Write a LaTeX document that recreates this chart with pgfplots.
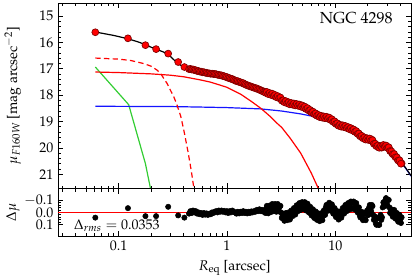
\documentclass[border=0pt]{standalone}
\usepackage[T1]{fontenc}
\usepackage{mathpazo}
\usepackage{pgfplots}
\usepackage{pgfplotstable}
\pgfplotsset{compat=1.18}

\definecolor{mgreen}{RGB}{50,205,50}
\definecolor{mblue}{RGB}{20,20,255}
\definecolor{dred}{RGB}{125,0,0}

\pgfplotstableread{
R mu d
0.061 15.61 0.042
0.122 15.84 -0.034
0.177 16.10 0.030
0.222 16.25 0.030
0.287 16.42 -0.045
0.355 16.74 0.024
0.405 16.93 0.042
0.447 17.01 0.010
0.460 17.00 -0.010
0.473 17.025 0.005
0.487 17.02 -0.015
0.501 17.05 0.000
0.516 17.05 -0.010
0.531 17.08 0.010
0.546 17.08 0.000
0.562 17.105 0.015
0.578 17.105 0.005
0.596 17.13 0.020
0.613 17.125 0.005
0.631 17.148 0.018
0.649 17.148 0.008
0.668 17.17 0.020
0.688 17.17 0.010
0.708 17.185 0.015
0.729 17.18 0.000
0.750 17.195 0.005
0.772 17.195 -0.005
0.794 17.20 -0.010
0.817 17.225 0.000
0.841 17.225 -0.015
0.866 17.245 -0.005
0.891 17.245 -0.015
0.917 17.27 -0.005
0.944 17.278 -0.012
0.972 17.305 0.000
1.000 17.31 -0.010
1.029 17.345 0.005
1.059 17.35 -0.010
1.090 17.38 0.000
1.122 17.385 -0.015
1.155 17.415 -0.005
1.189 17.44 0.000
1.224 17.465 0.010
1.259 17.465 -0.005
1.296 17.498 0.008
1.334 17.505 -0.005
1.373 17.535 0.005
1.413 17.54 -0.010
1.454 17.58 0.005
1.496 17.595 -0.005
1.540 17.628 0.008
1.585 17.635 -0.005
1.631 17.665 0.005
1.679 17.672 -0.008
1.728 17.70 0.000
1.778 17.71 -0.010
1.830 17.735 -0.005
1.884 17.74 -0.020
1.939 17.775 -0.010
1.995 17.785 -0.025
2.054 17.82 -0.010
2.113 17.83 -0.020
2.175 17.865 -0.005
2.239 17.87 -0.020
2.304 17.885 -0.030
2.371 17.925 -0.015
2.441 17.93 -0.030
2.512 17.96 -0.020
2.585 17.955 -0.045
2.661 17.99 -0.030
2.739 17.995 -0.050
2.818 18.045 -0.025
2.901 18.045 -0.045
2.985 18.08 -0.030
3.073 18.085 -0.045
3.162 18.15 0.000
3.255 18.20 0.030
3.350 18.245 0.055
3.447 18.23 0.020
3.548 18.28 0.050
3.652 18.27 0.015
3.758 18.325 0.045
3.868 18.31 0.010
3.981 18.34 0.020
4.097 18.32 -0.020
4.217 18.37 0.010
4.340 18.345 -0.035
4.467 18.38 -0.020
4.597 18.36 -0.060
4.732 18.41 -0.030
4.870 18.39 -0.070
5.012 18.445 -0.035
5.158 18.43 -0.075
5.309 18.50 -0.030
5.464 18.49 -0.060
5.623 18.55 -0.020
5.788 18.555 -0.040
5.957 18.63 0.010
6.131 18.62 -0.020
6.310 18.69 0.030
6.494 18.685 0.000
6.683 18.755 0.045
6.879 18.745 0.015
7.079 18.81 0.060
7.286 18.785 0.020
7.499 18.835 0.055
7.718 18.81 0.010
7.943 18.86 0.020
8.175 18.825 -0.040
8.414 18.87 -0.020
8.660 18.85 -0.065
8.913 18.91 -0.030
9.173 18.905 -0.060
9.441 18.98 -0.010
9.716 18.985 -0.030
10.00 19.06 0.020
10.29 19.06 -0.005
10.59 19.135 0.045
10.90 19.125 0.010
11.22 19.175 0.035
11.55 19.155 -0.010
11.89 19.19 0.000
12.23 19.175 -0.040
12.59 19.22 -0.020
12.96 19.21 -0.060
13.34 19.27 -0.030
13.73 19.25 -0.075
14.13 19.31 -0.040
14.54 19.295 -0.080
14.96 19.365 -0.035
15.40 19.355 -0.070
15.85 19.43 -0.020
16.31 19.44 -0.040
16.79 19.53 0.020
17.28 19.535 0.000
17.78 19.61 0.050
18.30 19.60 0.015
18.84 19.665 0.055
19.39 19.645 0.010
19.95 19.68 0.020
20.54 19.65 -0.040
21.13 19.70 -0.020
21.75 19.685 -0.060
22.39 19.79 0.020
23.04 19.835 0.040
23.71 19.91 0.090
24.41 19.90 0.050
25.12 19.98 0.100
25.85 19.945 0.040
26.61 19.99 0.060
27.38 19.915 -0.040
28.18 19.92 -0.060
29.00 19.91 -0.100
29.85 19.97 -0.070
30.72 19.965 -0.100
31.62 20.05 -0.040
32.54 20.125 -0.010
33.50 20.20 0.020
34.48 20.22 -0.010
35.48 20.31 0.030
36.52 20.34 0.010
37.58 20.44 0.060
38.68 20.46 0.030
39.81 20.55 0.070
40.97 20.59 0.040
}\data

\pgfplotstableread{
R mu d
2.271 17.908 0.005
2.337 17.875 -0.0525
2.405 17.958 0.0075
2.476 17.915 -0.055
2.548 17.988 -0.0025
2.622 17.943 -0.0675
2.700 18.023 -0.010
2.779 17.990 -0.0675
2.859 18.075 -0.005
2.943 18.033 -0.0675
3.028 18.113 -0.0075
3.118 18.088 -0.0525
3.208 18.205 0.045
3.302 18.193 0.0125
3.399 18.268 0.0675
3.497 18.225 0.005
3.599 18.305 0.0625
3.705 18.268 0.000
3.812 18.348 0.0575
3.924 18.295 -0.015
4.039 18.360 0.030
4.156 18.315 -0.035
4.278 18.388 0.0175
4.403 18.333 -0.0575
4.532 18.400 -0.010
4.664 18.355 -0.075
4.801 18.430 -0.020
4.941 18.388 -0.0825
5.085 18.468 -0.025
5.233 18.435 -0.0825
5.386 18.525 -0.015
5.543 18.490 -0.070
5.705 18.583 0.000
5.872 18.563 -0.045
6.043 18.655 0.025
6.220 18.625 -0.025
6.401 18.718 0.045
6.588 18.690 -0.0075
6.780 18.780 0.060
6.979 18.748 0.0075
7.182 18.828 0.070
7.392 18.780 0.0075
7.608 18.853 0.0625
7.830 18.805 -0.015
8.058 18.873 0.020
8.294 18.818 -0.060
8.536 18.890 -0.0125
8.786 18.850 -0.0775
9.042 18.938 -0.015
9.306 18.913 -0.065
9.578 19.013 0.010
9.857 18.993 -0.035
10.15 19.090 0.0375
10.44 19.068 -0.010
10.74 19.160 0.0575
11.06 19.120 -0.0075
11.38 19.195 0.0425
11.72 19.143 -0.035
12.06 19.213 0.010
12.41 19.168 -0.060
12.77 19.245 -0.010
13.15 19.210 -0.075
13.53 19.290 -0.0225
13.93 19.250 -0.0875
14.33 19.333 -0.030
14.75 19.300 -0.0875
15.18 19.390 -0.0225
15.62 19.363 -0.075
16.08 19.465 0.000
16.55 19.455 -0.040
17.03 19.563 0.040
17.53 19.543 -0.005
18.04 19.635 0.0625
18.57 19.603 0.005
19.11 19.685 0.0625
19.67 19.633 -0.015
20.24 19.695 0.020
20.84 19.645 -0.060
21.44 19.723 -0.010
22.07 19.708 -0.050
22.71 19.843 0.060
23.37 19.843 0.035
24.05 19.935 0.100
24.76 19.910 0.045
25.48 19.993 0.100
26.22 19.938 0.020
27.00 19.983 0.040
27.78 19.888 -0.080
28.59 19.945 -0.050
29.42 19.910 -0.115
30.28 19.998 -0.055
31.17 19.978 -0.100
32.08 20.118 0.005
33.01 20.133 -0.025
33.99 20.240 0.035
34.98 20.235 -0.020
36.00 20.355 0.050
37.05 20.360 0.005
38.12 20.480 0.075
39.24 20.475 0.020
40.39 20.600 0.085
}\dataB

\begin{document}
\begin{tikzpicture}
\pgfplotsset{every axis/.append style={
  scale only axis, width=264.75pt,
  xmode=log, xmin=0.0276, xmax=50,
  xtick={0.1,1,10},
  minor xtick={0.03,0.04,0.05,0.06,0.07,0.08,0.09,0.2,0.3,0.4,0.5,0.6,0.7,0.8,0.9,2,3,4,5,6,7,8,9,20,30,40},
  tick pos=both, tick align=inside,
  axis line style={line width=0.7pt},
  every tick/.style={black, line width=0.6pt},
  major tick length=4pt, minor tick length=2.2pt,
  tick label style={font=\fontsize{10.5}{12}\selectfont},
  label style={font=\fontsize{10.5}{12}\selectfont},
}}
\begin{axis}[name=main, at={(0,0)}, anchor=south west, height=139.3pt,
  y dir=reverse, ymin=14.5, ymax=21.55,
  ytick={15,16,17,18,19,20,21}, minor y tick num=4,
  xticklabels={,,},
  ylabel={$\mu_{F160W}$ [mag arcsec$^{-2}$]},
  ylabel style={at={(axis description cs:-0.128,0.5)}, anchor=center},
]
\addplot[mgreen, line width=0.9pt] coordinates {(0.061,16.93)(0.124,18.36)(0.177,20.6)(0.21,22.1)};
\addplot[mblue, line width=0.9pt] coordinates {(0.061,18.42)(0.3,18.43)(0.57,18.45)(1.0,18.47)(2.06,18.52)(3.2,18.6)(4.8,18.71)(6.0,18.79)(7.35,18.89)(8.7,18.98)(10.4,19.09)(13.7,19.36)(17,19.56)(21,19.75)(26,19.94)(32,20.13)(36,20.31)(40,20.51)(45,20.79)(50,21.07)};
\addplot[red, line width=0.9pt] coordinates {(0.061,17.12)(0.1,17.14)(0.2,17.19)(0.3,17.24)(0.4,17.3)(0.57,17.42)(0.7,17.5)(0.87,17.62)(1.0,17.7)(1.35,17.97)(1.7,18.25)(2.06,18.5)(2.5,18.8)(2.93,19.08)(3.2,19.22)(3.85,19.64)(4.8,20.2)(6.0,20.95)(7.0,21.55)(7.3,21.8)};
\addplot[red, line width=0.9pt, dash pattern=on 4pt off 2.5pt] coordinates {(0.061,16.59)(0.1,16.63)(0.129,16.68)(0.171,16.8)(0.2,16.9)(0.227,17.05)(0.245,17.18)(0.261,17.36)(0.28,17.55)(0.301,17.81)(0.325,18.08)(0.347,18.38)(0.375,18.8)(0.399,19.3)(0.44,20.2)(0.47,20.9)(0.488,21.35)(0.50,21.6)(0.52,22.0)};
\addplot[only marks, mark=*, mark size=2.6pt, mark options={fill=red, draw=dred, line width=0.5pt}] table[x=R, y=mu] {\data};
\addplot[only marks, mark=*, mark size=2.6pt, mark options={fill=red, draw=dred, line width=0.5pt}] table[x=R, y=mu] {\dataB};
\addplot[black, line width=0.9pt] coordinates {(0.061,15.60)(0.09,15.73)(0.12,15.85)(0.15,15.97)(0.177,16.08)(0.2,16.18)(0.227,16.27)(0.26,16.36)(0.28,16.43)(0.30,16.52)(0.323,16.65)(0.345,16.76)(0.373,16.86)(0.40,16.93)(0.43,16.98)(0.447,17.00)(0.501,17.05)(0.562,17.09)(0.631,17.13)(0.708,17.17)(0.794,17.21)(0.891,17.26)(1.0,17.32)(1.122,17.40)(1.259,17.47)(1.413,17.55)(1.585,17.64)(1.778,17.72)(1.995,17.81)(2.239,17.89)(2.512,17.98)(2.818,18.07)(3.162,18.15)(3.548,18.23)(3.981,18.32)(4.467,18.40)(5.012,18.48)(5.623,18.57)(6.310,18.66)(7.079,18.75)(7.943,18.84)(8.913,18.94)(10.0,19.04)(11.22,19.14)(12.59,19.24)(14.13,19.35)(15.85,19.45)(17.78,19.56)(19.95,19.66)(22.39,19.77)(25.12,19.88)(28.18,19.98)(31.62,20.09)(33.5,20.18)(35.48,20.28)(37.58,20.38)(39.81,20.48)(42.17,20.62)(45,20.78)(50,21.05)};
\node[anchor=base east, inner sep=0pt, font=\fontsize{12}{14}\selectfont] at (axis description cs:0.949,0.892) {NGC 4298};
\end{axis}
\begin{axis}[at={(0,0)}, anchor=north west, height=35.5pt,
  y dir=reverse, ymin=-0.19, ymax=0.19,
  ytick={-0.1,0,0.1}, minor y tick num=4,
  yticklabel style={/pgf/number format/.cd, fixed, fixed zerofill, precision=1},
  xticklabels={0.1,1,10},
  xlabel={$R_{\mathrm{eq}}$ [arcsec]},
  ylabel={$\Delta\mu$},
  ylabel style={at={(axis description cs:-0.128,0.5)}, anchor=center},
]
\addplot[only marks, mark=*, mark size=2pt, black] table[x=R, y=d] {\data};
\addplot[only marks, mark=*, mark size=2pt, black] table[x=R, y=d] {\dataB};
\addplot[red, line width=1pt] coordinates {(0.0276,0)(50,0)};
\node[anchor=base west, inner sep=0pt, font=\fontsize{10.5}{12}\selectfont] at (axis cs:0.0385,0.134) {$\Delta_{rms} = 0.0353$};
\end{axis}
\pgfresetboundingbox
\path[use as bounding box] (-43.5pt,-66.975pt) rectangle (267.75pt,141.55pt);
\end{tikzpicture}
\end{document}
